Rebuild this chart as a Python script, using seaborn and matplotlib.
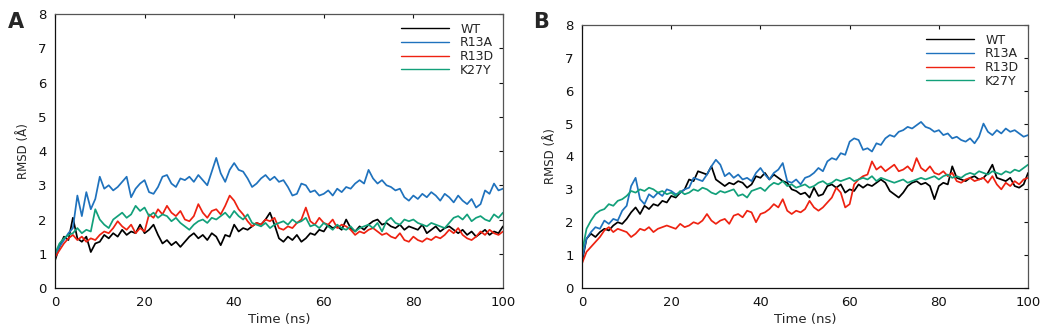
import matplotlib
matplotlib.use("Agg")
import matplotlib.pyplot as plt
import numpy as np
import seaborn as sns
import pandas as pd

# time axis, 1 ns steps
time_ns = list(range(0, 101))
variants = ["WT", "R13A", "R13D", "K27Y"]
colors = {"WT": "#000000", "R13A": "#1f72bd", "R13D": "#ee2211", "K27Y": "#12a07a"}

# panel A: RMSD (A)
a_wt = [0.80, 1.20, 1.50, 1.40, 2.05, 1.45, 1.35, 1.50, 1.05, 1.30,
        1.35, 1.55, 1.45, 1.60, 1.50, 1.70, 1.55, 1.65, 1.60, 1.85,
        1.60, 1.70, 1.85, 1.55, 1.30, 1.40, 1.25, 1.35, 1.20, 1.35,
        1.50, 1.60, 1.45, 1.55, 1.40, 1.60, 1.50, 1.25, 1.55, 1.50,
        1.85, 1.65, 1.75, 1.70, 1.80, 1.90, 1.85, 2.00, 2.20, 1.85,
        1.45, 1.35, 1.50, 1.40, 1.55, 1.35, 1.45, 1.60, 1.55, 1.70,
        1.65, 1.85, 1.75, 1.80, 1.70, 2.00, 1.75, 1.65, 1.80, 1.70,
        1.85, 1.95, 2.00, 1.85, 1.90, 1.80, 1.75, 1.85, 1.70, 1.80,
        1.75, 1.70, 1.85, 1.60, 1.70, 1.80, 1.65, 1.75, 1.80, 1.70,
        1.60, 1.70, 1.55, 1.65, 1.50, 1.60, 1.70, 1.55, 1.65, 1.60,
        1.80]
a_r13a = [0.90, 1.20, 1.40, 1.60, 1.75, 2.70, 2.10, 2.80, 2.30, 2.60,
          3.25, 2.90, 3.00, 2.85, 2.95, 3.10, 3.25, 2.65, 2.90, 3.05,
          3.15, 2.80, 2.75, 2.95, 3.25, 3.30, 3.05, 2.95, 3.20, 3.15,
          3.25, 3.10, 3.30, 3.15, 3.00, 3.40, 3.80, 3.35, 3.10, 3.45,
          3.65, 3.45, 3.40, 3.20, 2.95, 3.05, 3.20, 3.30, 3.15, 3.25,
          3.10, 3.15, 2.95, 2.70, 2.75, 3.05, 3.00, 2.80, 2.85, 2.70,
          2.75, 2.85, 2.70, 2.90, 2.80, 2.95, 2.90, 3.05, 3.15, 3.05,
          3.45, 3.20, 3.05, 3.15, 3.00, 2.95, 2.85, 2.90, 2.65, 2.55,
          2.70, 2.60, 2.75, 2.65, 2.80, 2.70, 2.55, 2.75, 2.65, 2.50,
          2.70, 2.55, 2.45, 2.60, 2.35, 2.45, 2.85, 2.75, 3.05, 2.85,
          2.90]
a_r13d = [0.90, 1.10, 1.30, 1.45, 1.55, 1.40, 1.50, 1.35, 1.45, 1.40,
          1.55, 1.65, 1.60, 1.75, 1.95, 1.80, 1.70, 1.85, 1.60, 1.75,
          1.65, 2.15, 2.05, 2.30, 2.15, 2.40, 2.20, 2.10, 2.25, 2.00,
          1.95, 2.10, 2.45, 2.20, 2.05, 2.25, 2.30, 2.15, 2.40, 2.70,
          2.55, 2.30, 2.15, 1.95, 1.80, 1.90, 1.85, 2.00, 1.95, 2.05,
          1.75, 1.70, 1.80, 1.75, 1.90, 2.00, 2.35, 1.95, 1.85, 2.05,
          1.90, 1.85, 2.00, 1.75, 1.85, 1.80, 1.70, 1.55, 1.65, 1.60,
          1.70, 1.75, 1.65, 1.55, 1.60, 1.50, 1.45, 1.60, 1.40, 1.35,
          1.50, 1.40, 1.35, 1.45, 1.40, 1.50, 1.45, 1.55, 1.70, 1.60,
          1.75, 1.55, 1.45, 1.40, 1.50, 1.65, 1.55, 1.70, 1.60, 1.55,
          1.65]
a_k27y = [1.00, 1.30, 1.45, 1.55, 1.60, 1.75, 1.60, 1.70, 1.65, 2.30,
          2.00, 1.85, 1.75, 2.00, 2.10, 2.20, 2.05, 2.15, 2.40, 2.25,
          2.35, 2.10, 2.20, 2.05, 2.15, 2.10, 1.95, 2.05, 1.90, 1.80,
          1.70, 1.85, 1.95, 2.00, 1.90, 2.05, 2.00, 2.10, 2.20, 2.05,
          2.25, 2.10, 2.00, 2.15, 1.90, 1.85, 1.80, 1.90, 1.75, 1.85,
          1.90, 1.95, 1.85, 2.00, 1.90, 1.95, 2.05, 1.80, 1.85, 1.75,
          1.90, 1.80, 1.70, 1.85, 1.75, 1.70, 1.80, 1.65, 1.75, 1.80,
          1.85, 1.75, 1.90, 1.65, 1.95, 2.05, 1.90, 1.85, 2.00, 1.95,
          2.00, 1.90, 1.85, 1.80, 1.90, 1.85, 1.80, 1.75, 1.90, 2.05,
          2.10, 2.00, 2.15, 1.95, 2.05, 2.10, 2.00, 1.95, 2.15, 2.05,
          2.20]

# panel B
b_wt = [0.80, 1.50, 1.65, 1.55, 1.70, 1.80, 1.75, 1.90, 2.00, 1.95,
        2.10, 2.30, 2.45, 2.25, 2.50, 2.40, 2.55, 2.50, 2.65, 2.60,
        2.80, 2.75, 2.90, 3.00, 3.30, 3.25, 3.55, 3.50, 3.45, 3.70,
        3.30, 3.20, 3.10, 3.20, 3.15, 3.25, 3.20, 3.05, 3.15, 3.40,
        3.35, 3.50, 3.30, 3.45, 3.35, 3.25, 3.20, 3.00, 2.95, 2.85,
        2.90, 2.75, 3.05, 2.80, 2.85, 3.10, 3.15, 3.05, 3.15, 2.90,
        3.00, 2.95, 3.15, 3.05, 3.15, 3.10, 3.20, 3.30, 3.20, 2.95,
        2.85, 2.75, 2.90, 3.10, 3.20, 3.25, 3.15, 3.20, 3.10, 2.70,
        3.10, 3.20, 3.15, 3.70, 3.35, 3.30, 3.25, 3.35, 3.40, 3.30,
        3.35, 3.50, 3.75, 3.35, 3.30, 3.25, 3.35, 3.10, 3.05, 3.15,
        3.50]
b_r13a = [0.90, 1.50, 1.70, 1.85, 1.80, 2.05, 1.95, 2.10, 2.05, 2.35,
          2.50, 3.10, 3.35, 2.70, 2.55, 2.85, 2.75, 2.90, 2.80, 3.00,
          2.95, 2.85, 2.90, 3.00, 3.05, 3.35, 3.30, 3.25, 3.45, 3.70,
          3.90, 3.75, 3.40, 3.50, 3.35, 3.45, 3.30, 3.35, 3.25, 3.50,
          3.65, 3.45, 3.30, 3.50, 3.60, 3.80, 3.25, 3.20, 3.30, 3.15,
          3.35, 3.40, 3.50, 3.65, 3.55, 3.85, 3.95, 3.90, 4.10, 4.05,
          4.45, 4.55, 4.50, 4.20, 4.25, 4.15, 4.40, 4.35, 4.55, 4.65,
          4.60, 4.75, 4.80, 4.90, 4.85, 4.95, 5.05, 4.90, 4.85, 4.75,
          4.80, 4.65, 4.70, 4.55, 4.60, 4.50, 4.45, 4.55, 4.40, 4.60,
          5.00, 4.75, 4.65, 4.80, 4.70, 4.85, 4.75, 4.80, 4.70, 4.60,
          4.65]
b_r13d = [0.75, 1.10, 1.25, 1.40, 1.55, 1.75, 1.85, 1.70, 1.80, 1.75,
          1.70, 1.55, 1.65, 1.80, 1.75, 1.85, 1.70, 1.80, 1.85, 1.90,
          1.85, 1.80, 1.95, 1.85, 1.90, 2.00, 1.95, 2.05, 2.25, 2.05,
          1.95, 2.05, 2.10, 1.95, 2.20, 2.25, 2.15, 2.35, 2.30, 2.00,
          2.25, 2.30, 2.40, 2.55, 2.45, 2.70, 2.35, 2.25, 2.35, 2.30,
          2.40, 2.65, 2.45, 2.35, 2.45, 2.60, 2.75, 3.05, 2.90, 2.45,
          2.55, 3.15, 3.30, 3.40, 3.45, 3.85, 3.60, 3.70, 3.55, 3.65,
          3.75, 3.55, 3.60, 3.70, 3.55, 3.95, 3.65, 3.55, 3.70, 3.50,
          3.45, 3.55, 3.40, 3.50, 3.25, 3.20, 3.30, 3.35, 3.25, 3.30,
          3.35, 3.20, 3.40, 3.15, 3.00, 3.20, 3.10, 3.25, 3.15, 3.30,
          3.35]
b_k27y = [1.10, 1.80, 2.05, 2.25, 2.35, 2.40, 2.55, 2.50, 2.65, 2.70,
          2.80, 2.95, 2.90, 3.00, 2.95, 3.05, 3.00, 2.90, 2.95, 2.85,
          2.90, 2.80, 2.95, 2.85, 2.90, 3.00, 2.95, 3.05, 3.00, 2.90,
          2.85, 2.95, 2.90, 2.95, 3.00, 2.80, 2.85, 2.75, 2.95, 3.00,
          3.05, 2.95, 3.10, 3.20, 3.15, 3.25, 3.10, 3.15, 3.05, 3.10,
          3.15, 3.05, 3.10, 3.20, 3.25, 3.15, 3.20, 3.30, 3.25, 3.30,
          3.35, 3.25, 3.30, 3.35, 3.30, 3.40, 3.25, 3.35, 3.30, 3.25,
          3.20, 3.25, 3.30, 3.20, 3.25, 3.30, 3.35, 3.30, 3.35, 3.40,
          3.30, 3.40, 3.45, 3.35, 3.40, 3.35, 3.45, 3.50, 3.45, 3.55,
          3.50, 3.45, 3.55, 3.50, 3.45, 3.55, 3.50, 3.60, 3.55, 3.65,
          3.75]


def to_long(series):
    rows = []
    for name, vals in zip(variants, series):
        rows.append(pd.DataFrame({"Time": time_ns, "RMSD": vals, "Variant": name}))
    return pd.concat(rows, ignore_index=True)


df_a = to_long([a_wt, a_r13a, a_r13d, a_k27y])
df_b = to_long([b_wt, b_r13a, b_r13d, b_k27y])

sns.set_style("white")
plt.rcParams['font.family'] = ['DejaVu Sans']

fig = plt.figure(figsize=(10.45, 3.28), dpi=100)
ax_a = fig.add_axes([0.0526, 0.122, 0.4287, 0.835])
ax_b = fig.add_axes([0.557, 0.122, 0.4268, 0.802])

for ax, df in [(ax_a, df_a), (ax_b, df_b)]:
    sns.lineplot(data=df, x="Time", y="RMSD", hue="Variant", hue_order=variants,
                 palette=colors, linewidth=1.25, ax=ax, estimator=None)
    ax.set_xlim(0, 100)
    ax.set_ylim(0, 8)
    ax.set_xticks([0, 20, 40, 60, 80, 100])
    ax.set_yticks(range(0, 9))
    ax.tick_params(direction="in", length=3, width=0.8, top=True, right=True,
                   labelsize=9.5, pad=6, colors="#111111")
    for s in ax.spines.values():
        s.set_color("#555555")
        s.set_linewidth(0.9)
    ax.spines["left"].set_color("#111111")
    ax.spines["bottom"].set_color("#111111")
    ax.set_xlabel("Time (ns)", fontsize=9.5, labelpad=3)
    ax.set_ylabel("RMSD (Å)", fontsize=8.5, labelpad=6)
    leg = ax.legend(loc="upper right", frameon=False, fontsize=9, handlelength=3.8,
                    handletextpad=0.9, labelspacing=0.05, borderaxespad=0.3)
    for h in leg.get_lines():
        h.set_linewidth(1.0)

fig.text(0.008, 0.915, "A", fontsize=15, fontweight="bold")
fig.text(0.510, 0.915, "B", fontsize=15, fontweight="bold")

fig.savefig("out.png", dpi=100)
